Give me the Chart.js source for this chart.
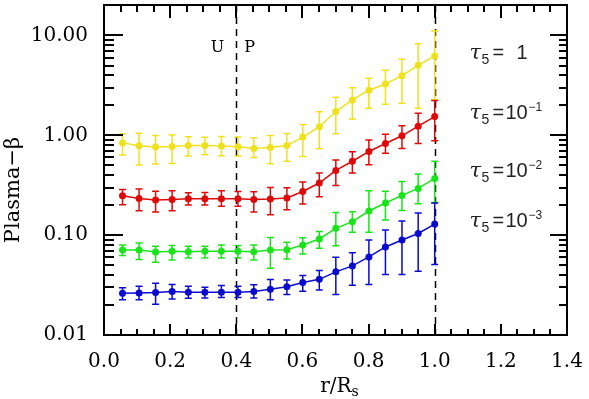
<!DOCTYPE html>
<html>
<head>
<meta charset="utf-8">
<script src="https://cdn.jsdelivr.net/npm/chart.js@4.4.1/dist/chart.umd.min.js"></script>
<style>
  html, body { margin: 0; padding: 0; background: #fff; }
</style>
</head>
<body>
<canvas id="myChart" width="589" height="399"></canvas>
<script>
// radial positions of the bins (r / R_s)
const radius = [0.056, 0.106, 0.156, 0.206, 0.255, 0.305, 0.355, 0.405, 0.453, 0.503,
                0.553, 0.601, 0.651, 0.701, 0.751, 0.801, 0.851, 0.901, 0.950, 1.000];

// tau_5 = 1 (yellow)
const yellowMid  = [0.84, 0.785, 0.765, 0.775, 0.79, 0.79, 0.78, 0.77, 0.74, 0.755,
                    0.79, 0.96, 1.22, 1.73, 2.26, 2.83, 3.27, 3.96, 5.03, 6.24];
const yellowHigh = [1.03, 1.05, 0.995, 1.005, 0.966, 0.959, 0.973, 0.96, 0.944, 0.998,
                    1.04, 1.28, 1.72, 2.41, 3.0, 3.73, 4.49, 5.78, 8.28, 11.1];
const yellowLow  = [0.634, 0.504, 0.515, 0.522, 0.619, 0.638, 0.624, 0.62, 0.60, 0.519,
                    0.55, 0.614, 0.733, 1.035, 1.46, 1.87, 2.05, 2.1, 1.87, 2.26];

// tau_5 = 1e-1 (red)
const redMid  = [0.248, 0.233, 0.225, 0.228, 0.231, 0.231, 0.231, 0.231, 0.228, 0.23,
                 0.236, 0.274, 0.333, 0.445, 0.55, 0.689, 0.828, 0.989, 1.236, 1.54];
const redHigh = [0.287, 0.29, 0.276, 0.278, 0.266, 0.267, 0.278, 0.273, 0.272, 0.30,
                 0.298, 0.34, 0.42, 0.565, 0.683, 0.898, 1.028, 1.25, 1.66, 2.23];
const redLow  = [0.202, 0.176, 0.171, 0.176, 0.20, 0.20, 0.195, 0.195, 0.171, 0.16,
                 0.18, 0.205, 0.243, 0.315, 0.42, 0.508, 0.66, 0.74, 0.83, 0.88];

// tau_5 = 1e-2 (green)
const greenMid  = [0.0711, 0.0711, 0.068, 0.0689, 0.0684, 0.0689, 0.0689, 0.0689, 0.0684, 0.0711,
                   0.0716, 0.0798, 0.0916, 0.117, 0.1365, 0.1746, 0.21, 0.25, 0.294, 0.37];
const greenHigh = [0.0798, 0.0836, 0.0776, 0.079, 0.0776, 0.0776, 0.0798, 0.079, 0.0798, 0.095,
                   0.0847, 0.0944, 0.109, 0.169, 0.172, 0.279, 0.276, 0.345, 0.409, 0.55];
const greenLow  = [0.0624, 0.0569, 0.0535, 0.0565, 0.0592, 0.0592, 0.0592, 0.059, 0.0565, 0.0466,
                   0.0578, 0.0649, 0.0738, 0.0785, 0.1067, 0.1067, 0.142, 0.177, 0.2065, 0.213];

// tau_5 = 1e-3 (blue)
const blueMid  = [0.0262, 0.0264, 0.0266, 0.0272, 0.0268, 0.0268, 0.0268, 0.0268, 0.0272, 0.0287,
                  0.0305, 0.0335, 0.0361, 0.0429, 0.0492, 0.0605, 0.0762, 0.0895, 0.104, 0.129];
const blueHigh = [0.0297, 0.0308, 0.033, 0.032, 0.0308, 0.0301, 0.0313, 0.0308, 0.0318, 0.0359,
                  0.0355, 0.0394, 0.0442, 0.06, 0.0668, 0.0895, 0.1127, 0.1387, 0.1667, 0.21];
const blueLow  = [0.0226, 0.0226, 0.0203, 0.023, 0.0233, 0.0235, 0.0237, 0.0237, 0.0235, 0.0225,
                  0.0254, 0.0274, 0.0283, 0.0254, 0.0315, 0.032, 0.0403, 0.0403, 0.0434, 0.0507];

// axis ticks
const xMajorTicks = [0.0, 0.2, 0.4, 0.6, 0.8, 1.0, 1.2, 1.4];
const yMajorTicks = [0.01, 0.1, 1, 10];
const boundaries = [0.4, 1.0];   // dashed vertical lines (U | P and r = R_s)

// label annotations: [x, baseline y, exponent]
const tauLabels = [
    [1.105, 5.82, null],
    [1.105, 1.46, '\u22121'],
    [1.105, 0.385, '\u22122'],
    [1.105, 0.1216, '\u22123']
];

const series = [
    { mid: yellowMid, high: yellowHigh, low: yellowLow, color: 'rgb(238,226,30)' },
    { mid: redMid, high: redHigh, low: redLow, color: 'rgb(222,10,10)' },
    { mid: greenMid, high: greenHigh, low: greenLow, color: 'rgb(25,228,25)' },
    { mid: blueMid, high: blueHigh, low: blueLow, color: 'rgb(10,10,205)' }
];

const serif = "'DejaVu Serif', serif";
const sans = "'Liberation Sans', Arial, sans-serif";

// dashed boundary lines + error bars, drawn under the data lines
const underlay = {
    id: 'underlay',
    beforeDatasetsDraw(chart) {
        const c = chart.ctx;
        const xs = chart.scales.x, ys = chart.scales.y;
        const area = chart.chartArea;
        c.save();
        c.strokeStyle = '#000';
        c.lineWidth = 1.5;
        c.setLineDash([7, 5]);
        boundaries.forEach(b => {
            const px = Math.round(xs.getPixelForValue(b)) + 0.5;
            c.beginPath();
            c.moveTo(px, area.top);
            c.lineTo(px, area.bottom);
            c.stroke();
        });
        c.setLineDash([]);
        series.forEach(s => {
            c.strokeStyle = s.color;
            radius.forEach((r, i) => {
                const px = xs.getPixelForValue(r);
                const top = ys.getPixelForValue(s.high[i]);
                const bot = ys.getPixelForValue(s.low[i]);
                c.beginPath();
                c.moveTo(px, top); c.lineTo(px, bot);
                c.moveTo(px - 3.5, top); c.lineTo(px + 3.5, top);
                c.moveTo(px - 3.5, bot); c.lineTo(px + 3.5, bot);
                c.stroke();
            });
        });
        c.restore();
    }
};

// box, inward ticks on all four sides, text annotations
const overlay = {
    id: 'overlay',
    afterDraw(chart) {
        const c = chart.ctx;
        const xs = chart.scales.x, ys = chart.scales.y;
        const a = chart.chartArea;
        const L = Math.round(a.left), R = Math.round(a.right);
        const T = Math.round(a.top), B = Math.round(a.bottom);
        c.save();
        c.fillStyle = '#000';
        // frame
        c.fillRect(L - 1, T - 1, R - L + 2, 2);
        c.fillRect(L - 1, B - 1, R - L + 2, 2);
        c.fillRect(L - 1, T - 1, 2, B - T + 2);
        c.fillRect(R - 1, T - 1, 2, B - T + 2);
        // x ticks every 0.05, major every 0.2
        for (let k = 0; k <= 28; k++) {
            const px = Math.round(xs.getPixelForValue(k * 0.05));
            const major = k % 4 === 0;
            c.fillRect(px - 1, B - (major ? 11 : 6), 2, major ? 11 : 6);
            c.fillRect(px - 1, T, 2, major ? 13 : 7);
        }
        // log ticks
        for (let e = -2; e <= 1; e++) {
            for (let m = 1; m <= 9; m++) {
                const v = m * Math.pow(10, e);
                if (v > ys.max) continue;
                const py = Math.round(ys.getPixelForValue(v));
                const major = m === 1;
                c.fillRect(L, py - 1, major ? 19 : 10, 2);
                c.fillRect(R - (major ? 17 : 8), py - 1, major ? 17 : 8, 2);
            }
        }

        // U | P labels
        const bx = xs.getPixelForValue(0.4);
        c.font = '16px ' + serif;
        c.textBaseline = 'alphabetic';
        c.textAlign = 'right';
        c.fillText('U', bx - 12, T + 47);
        c.textAlign = 'left';
        c.fillText('P', bx + 8, T + 47);

        // tau labels
        c.fillStyle = '#222';
        tauLabels.forEach(([tx, ty, exp]) => {
            const x0 = xs.getPixelForValue(tx);
            const y0 = ys.getPixelForValue(ty);
            c.textAlign = 'left';
            c.font = 'italic 21px ' + serif;
            c.fillText('\u03c4', x0, y0);
            c.font = '14px ' + sans;
            c.fillText('5', x0 + 12, y0 + 5);
            c.font = '20px ' + sans;
            c.fillText('=', x0 + 23, y0);
            if (exp === null) {
                c.fillText('1', x0 + 47, y0);
            } else {
                c.fillText('10', x0 + 36, y0);
                c.font = '12px ' + sans;
                c.fillText(exp, x0 + 59, y0 - 8);
            }
        });

        // x axis title r/R_s
        c.fillStyle = '#000';
        c.font = '20px ' + serif;
        const w1 = c.measureText('r/R').width;
        c.font = '14px ' + serif;
        const w2 = c.measureText('s').width;
        const sx = (a.left + a.right) / 2 + 4 - (w1 + w2) / 2;
        c.font = '20px ' + serif;
        c.fillText('r/R', sx, 392);
        c.font = '14px ' + serif;
        c.fillText('s', sx + w1, 396);

        // y axis title
        c.translate(19, 190);
        c.rotate(-Math.PI / 2);
        c.textAlign = 'center';
        c.font = '21px ' + serif;
        c.fillText('Plasma\u2212\u03b2', 0, 0);
        c.restore();
    }
};

new Chart(document.getElementById('myChart'), {
    type: 'line',
    data: {
        datasets: series.map(s => ({
            data: radius.map((r, i) => ({ x: r, y: s.mid[i] })),
            borderColor: s.color,
            backgroundColor: s.color,
            borderWidth: 1.5,
            pointRadius: 3.5,
            pointBorderWidth: 0,
            tension: 0,
            fill: false
        }))
    },
    options: {
        responsive: false,
        animation: false,
        devicePixelRatio: 1,
        layout: { padding: { left: 0, right: 22, top: 5, bottom: 0 } },
        plugins: { legend: { display: false }, tooltip: { enabled: false } },
        scales: {
            x: {
                type: 'linear',
                min: 0,
                max: 1.4,
                afterBuildTicks: scale => { scale.ticks = xMajorTicks.map(v => ({ value: v })); },
                afterFit: scale => { scale.height = 64; scale.paddingLeft = 0; scale.paddingRight = 0; },
                grid: { display: false },
                border: { display: false },
                ticks: {
                    callback: v => Number(v).toFixed(1),
                    color: '#000',
                    font: { family: serif, size: 20 },
                    padding: 7,
                    maxRotation: 0,
                    autoSkip: false
                }
            },
            y: {
                type: 'logarithmic',
                min: 0.01,
                max: 20.2,
                afterBuildTicks: scale => { scale.ticks = yMajorTicks.map(v => ({ value: v })); },
                afterFit: scale => { scale.width = 104; scale.paddingTop = 0; scale.paddingBottom = 0; },
                grid: { display: false },
                border: { display: false },
                ticks: {
                    callback: v => Number(v).toFixed(2),
                    color: '#000',
                    font: { family: serif, size: 20 },
                    padding: 8,
                    autoSkip: false
                }
            }
        }
    },
    plugins: [underlay, overlay]
});
</script>
</body>
</html>
